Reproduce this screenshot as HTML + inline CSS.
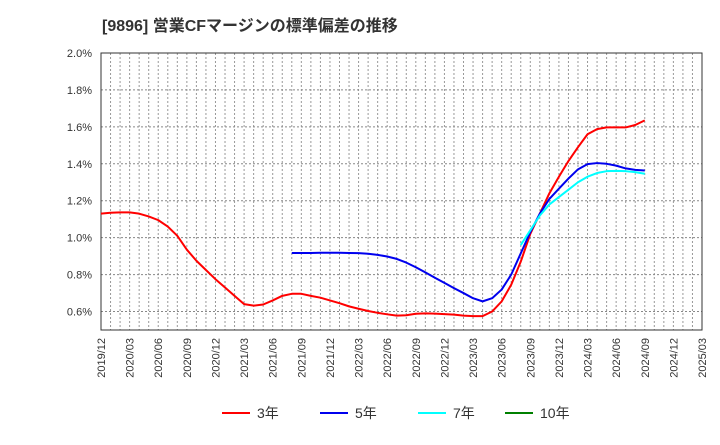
<!DOCTYPE html>
<html><head><meta charset="utf-8"><style>
body{margin:0;background:#fff;}
svg text{font-family:"Liberation Sans","Noto Sans CJK JP",sans-serif;}
</style></head><body>
<svg id="c" width="720" height="440" xmlns="http://www.w3.org/2000/svg"></svg>
<script>
const tickLabels=["2019/12","2020/03","2020/06","2020/09","2020/12","2021/03","2021/06","2021/09","2021/12","2022/03","2022/06","2022/09","2022/12","2023/03","2023/06","2023/09","2023/12","2024/03","2024/06","2024/09","2024/12","2025/03"];
const yTicks=[0.6,0.8,1.0,1.2,1.4,1.6,1.8,2.0];
const s3Start=0;
const s3=[1.13,1.135,1.137,1.137,1.13,1.115,1.095,1.06,1.01,0.935,0.875,0.825,0.775,0.73,0.685,0.64,0.632,0.638,0.66,0.685,0.696,0.696,0.685,0.675,0.66,0.645,0.628,0.615,0.603,0.593,0.585,0.578,0.58,0.588,0.59,0.589,0.586,0.583,0.578,0.575,0.575,0.60,0.655,0.745,0.87,1.02,1.13,1.24,1.33,1.415,1.49,1.56,1.588,1.597,1.597,1.597,1.61,1.635];
const s5Start=20;
const s5=[0.917,0.917,0.917,0.918,0.918,0.918,0.917,0.916,0.913,0.907,0.898,0.885,0.865,0.84,0.812,0.783,0.755,0.727,0.70,0.672,0.655,0.672,0.719,0.80,0.915,1.03,1.13,1.21,1.265,1.32,1.37,1.398,1.404,1.40,1.39,1.375,1.367,1.364];
const s7Start=44;
const s7=[0.96,1.04,1.12,1.18,1.22,1.26,1.30,1.33,1.35,1.36,1.362,1.36,1.355,1.346];
const s10Start=0;
const s10=[];
const NS="http://www.w3.org/2000/svg";
const svg=document.getElementById('c');
const L=101,R=702,T=53,B=330,months=63,ymin=0.5,ymax=2.0;
const X=i=>L+(R-L)*i/months;
const Y=v=>B-(B-T)*(v-ymin)/(ymax-ymin);
function mk(tag,a,parent){const e=document.createElementNS(NS,tag);for(const k in a)e.setAttribute(k,a[k]);(parent||svg).appendChild(e);return e;}
const grid=mk('g',{});


for(let i=1;i<months;i++){mk('line',{x1:X(i),x2:X(i),y1:T,y2:B,stroke:'#999','stroke-dasharray':'2,2','stroke-width':1},grid);}
yTicks.forEach(v=>{mk('line',{x1:L,x2:R,y1:Y(v),y2:Y(v),stroke:'#888','stroke-dasharray':'2,2','stroke-width':1},grid);});
yTicks.forEach(v=>{const t=mk('text',{x:92,y:Y(v)+4,'text-anchor':'end','font-size':11,fill:'#333'});t.textContent=v.toFixed(1)+'%';

});
tickLabels.forEach((s,k)=>{const x=X(k*3);const t=mk('text',{x:0,y:0,transform:`translate(${x+4},${B+8}) rotate(-90)`,'text-anchor':'end','font-size':11,fill:'#333'});t.textContent=s;

});
const frame=mk('rect',{x:L,y:T,width:R-L,height:B-T,fill:'none',stroke:'#333','stroke-width':1});


function line(arr,start,color,name){if(!arr.length)return;const p=mk('polyline',{points:arr.map((v,i)=>X(start+i)+','+Y(v)).join(' '),fill:'none',stroke:color,'stroke-width':2,'stroke-linejoin':'round'});

}
line(s3,s3Start,'#ff0000','series-3yr');
line(s5,s5Start,'#0000ee','series-5yr');
line(s7,s7Start,'#00ffff','series-7yr');
line(s10,s10Start,'#008000','series-10yr');
const title=mk('text',{x:102,y:31,'font-size':16,'font-weight':'bold',fill:'#333'});title.textContent='[9896]  営業CFマージンの標準偏差の推移';


[['3年','#ff0000',222],['5年','#0000ee',320],['7年','#00ffff',418],['10年','#008000',505]].forEach(([lab,col,x])=>{
const g=mk('g',{});


mk('line',{x1:x,x2:x+28,y1:413,y2:413,stroke:col,'stroke-width':2},g);
const t=mk('text',{x:x+35,y:418,'font-size':14,fill:'#333'},g);t.textContent=lab;});
</script>
</body></html>
